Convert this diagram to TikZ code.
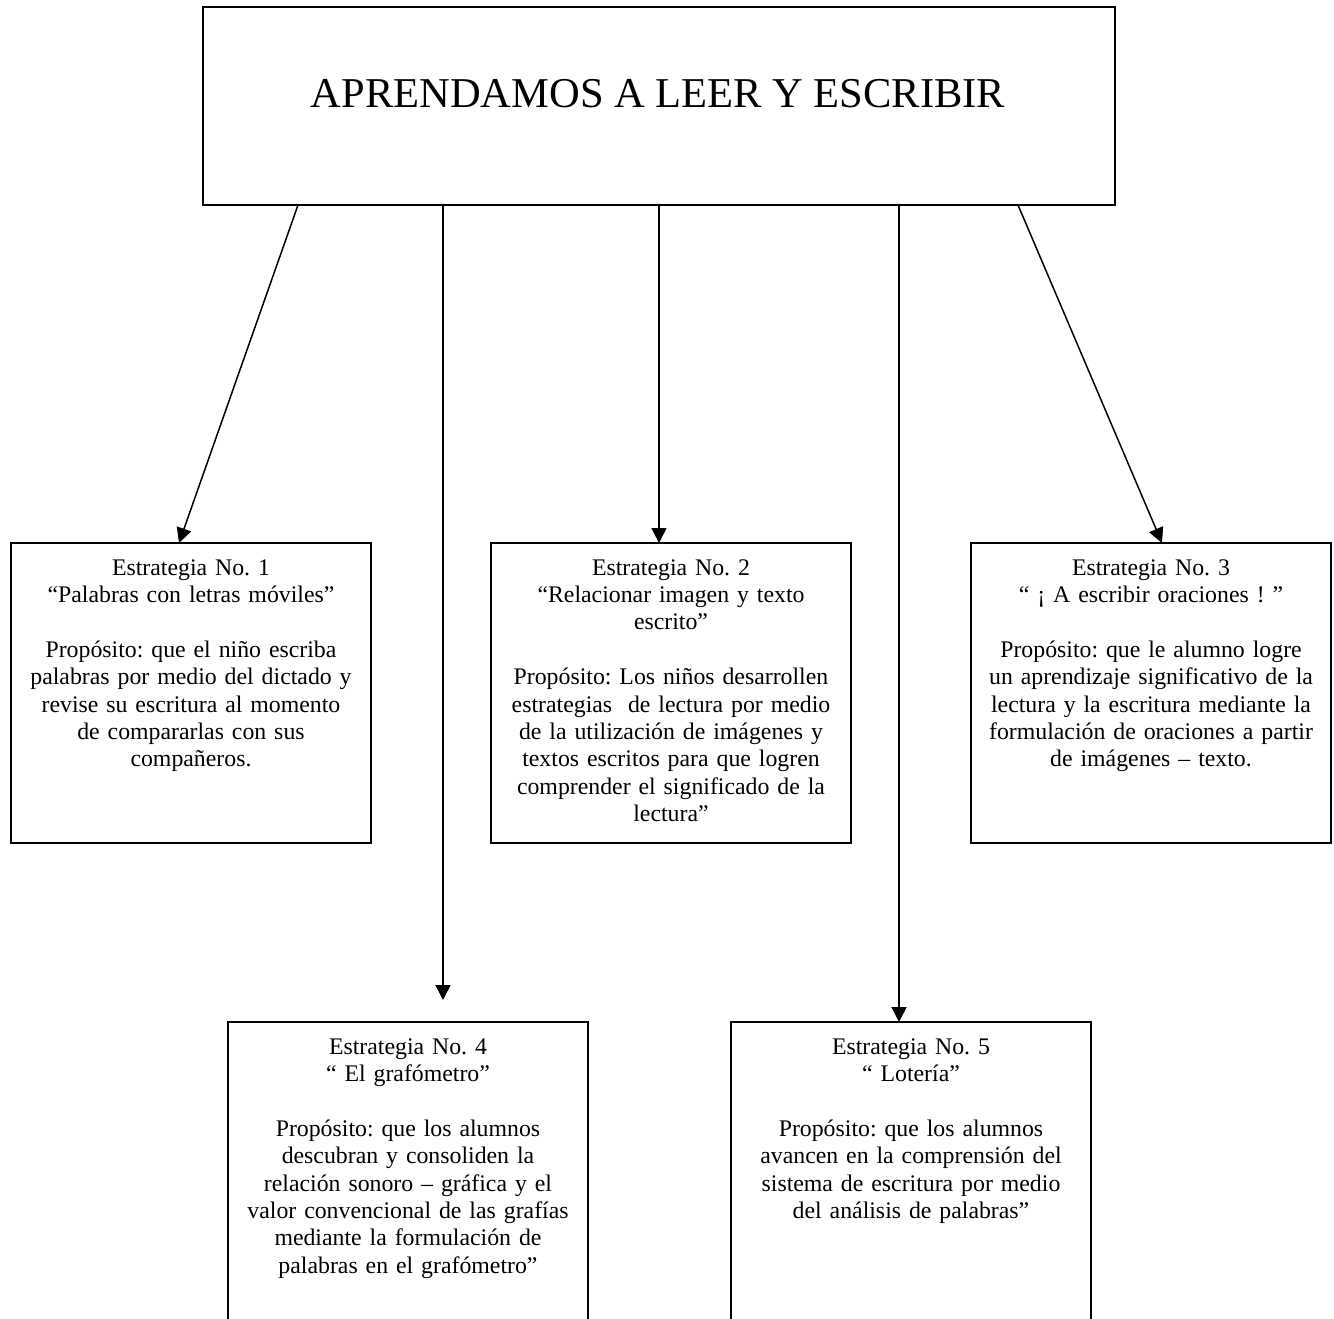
\documentclass[tikz,border=0pt]{standalone}
\usepackage{fontspec}
\setmainfont{Liberation Serif}
\usetikzlibrary{arrows.meta}
\frenchspacing
\begin{document}
\begin{tikzpicture}[x=1pt,y=-1pt,
  box/.style={draw, line width=1.8pt, inner sep=0pt, outer sep=0pt},
  smallbox/.style={box, minimum width=360pt, minimum height=300pt},
  lowbox/.style={box, minimum width=360pt, minimum height=308pt},
  txt/.style={font=\fontsize{23.8}{27.4}\selectfont, align=center, inner sep=0pt, text width=358pt, anchor=base},
  arr/.style={line width=1.5pt, -{Triangle[length=15pt,width=15pt]}}]
\useasboundingbox (0,0) rectangle (1334,1318);
\clip (0,0) rectangle (1334,1318);
% top box
\node[box, minimum width=912pt, minimum height=198pt] (top) at (659,106) {};
\node[font=\fontsize{42.5}{50}\selectfont, anchor=base, inner sep=0pt] (title) at (658,107) {APRENDAMOS A LEER Y ESCRIBIR};
% strategy boxes
\node[smallbox] (b1) at (191,693) {};
\node[smallbox] (b2) at (671,693) {};
\node[smallbox] (b3) at (1151,693) {};
\node[lowbox] (b4) at (408,1176) {};
\node[lowbox] (b5) at (911,1176) {};
% texts
\node[txt] (t1) at (191,575) {Estrategia No. 1\\“Palabras con letras móviles”\\[27.4pt]Propósito: que el niño escriba\\palabras por medio del dictado y\\revise su escritura al momento\\de compararlas con sus\\compañeros.};
\node[txt] (t2) at (671,575) {Estrategia No. 2\\“Relacionar imagen y texto\\escrito”\\[27.4pt]Propósito: Los niños desarrollen\\estrategias\ \ de lectura por medio\\de la utilización de imágenes y\\textos escritos para que logren\\comprender el significado de la\\lectura”};
\node[txt] (t3) at (1151,575) {Estrategia No. 3\\“ ¡ A escribir oraciones ! ”\\[27.4pt]Propósito: que le alumno logre\\un aprendizaje significativo de la\\lectura y la escritura mediante la\\formulación de oraciones a partir\\de imágenes – texto.};
\node[txt] (t4) at (408,1054) {Estrategia No. 4\\“ El grafómetro”\\[27.4pt]Propósito: que los alumnos\\descubran y consoliden la\\relación sonoro – gráfica y el\\valor convencional de las grafías\\mediante la formulación de\\palabras en el grafómetro”};
\node[txt] (t5) at (911,1054) {Estrategia No. 5\\“ Lotería”\\[27.4pt]Propósito: que los alumnos\\avancen en la comprensión del\\sistema de escritura por medio\\del análisis de palabras”};
% connector end points
\coordinate (s1) at (298,205);
\coordinate (s4) at (443,205);
\coordinate (s2) at (659,205);
\coordinate (s5) at (899,205);
\coordinate (s3) at (1018,205);
\coordinate (e1) at (179,543);
\coordinate (e2) at (659,543);
\coordinate (e3) at (1162,543);
\coordinate (e4) at (443,1000);
\coordinate (e5) at (899,1022);
\draw[arr] (s1) -- (e1);
\draw[arr] (s2) -- (e2);
\draw[arr] (s3) -- (e3);
\draw[arr] (s4) -- (e4);
\draw[arr] (s5) -- (e5);
\end{tikzpicture}
\end{document}
